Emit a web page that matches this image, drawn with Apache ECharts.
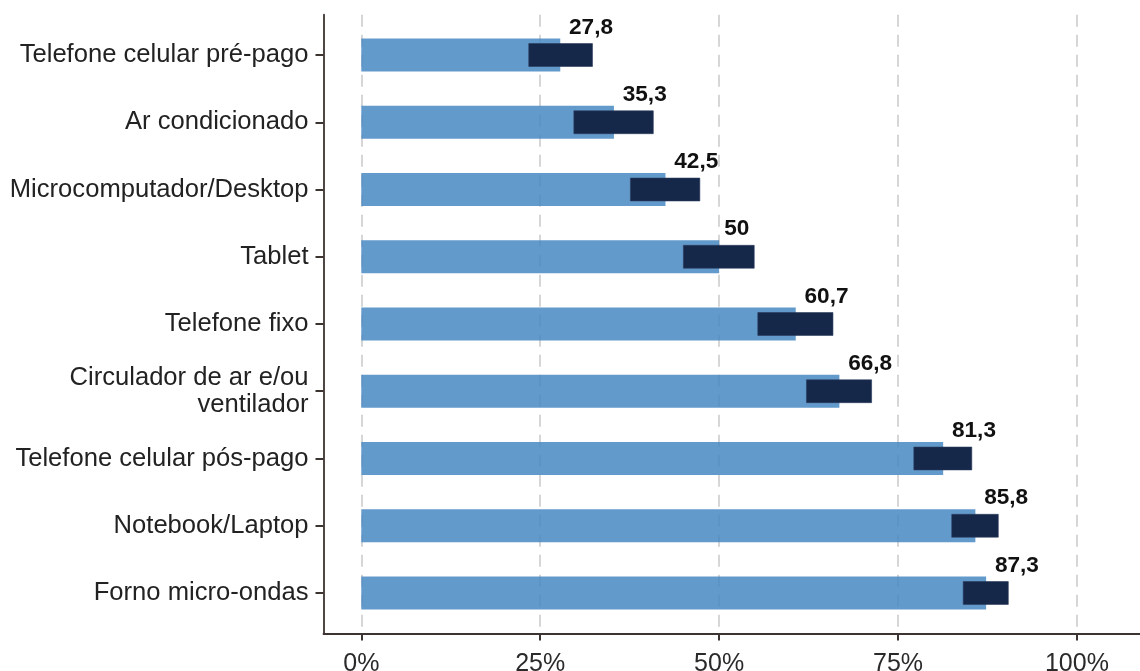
<!DOCTYPE html>
<html>
<head>
<meta charset="utf-8">
<script src="https://cdn.jsdelivr.net/npm/echarts@6/dist/echarts.min.js"></script>
<style>html,body{margin:0;padding:0;background:#fff}#c{width:1140px;height:671px}</style>
</head>
<body>
<div id="c"></div>
<script>
const categories = ["Telefone celular pré-pago","Ar condicionado","Microcomputador/Desktop","Tablet","Telefone fixo","Circulador de ar e/ou\nventilador","Telefone celular pós-pago","Notebook/Laptop","Forno micro-ondas"];
const values = [27.8, 35.3, 42.5, 50, 60.7, 66.8, 81.3, 85.8, 87.3];
const lower = [23.4, 29.7, 37.6, 45.0, 55.4, 62.2, 77.2, 82.5, 84.1];
const upper = [32.3, 40.8, 47.3, 54.9, 65.9, 71.3, 85.3, 89.0, 90.4];
const xTicks = [0, 25, 50, 75, 100];

const FONT = '"Liberation Sans", Arial, Helvetica, sans-serif';
const LABEL_FONT = 'bold 22.6px "Liberation Sans", Arial, sans-serif';
const mctx = document.createElement('canvas').getContext('2d');
mctx.font = LABEL_FONT;
const fmt = v => String(v).replace('.', ',');

const X_MIN = -5.28, X_MAX = 108.8;
const AXIS_COLOR = '#3b3430';

const chart = echarts.init(document.getElementById('c'), null, {renderer: 'canvas'});
const rangeData = values.map((v, i) => [i, lower[i], upper[i], v]);

chart.setOption({
  animation: false,
  backgroundColor: '#ffffff',
  grid: [
    {left: 323.5, right: 0, top: 14.7, bottom: 37.5, outerBoundsMode: 'none'},      // axis lines frame
    {left: 361.3, width: 715.6, top: 14.7, bottom: 37.5, outerBoundsMode: 'none'},  // gridlines & x ticks
    {left: 323.5, right: 0, top: 21.4, bottom: 44.4, outerBoundsMode: 'none'}       // data
  ],
  xAxis: [
    {gridIndex: 0, type: 'value', min: X_MIN, max: X_MAX,
     axisLine: {show: true, onZero: false, lineStyle: {color: AXIS_COLOR, width: 1.8}},
     axisTick: {show: false}, axisLabel: {show: false}, splitLine: {show: false}},
    {gridIndex: 1, type: 'value', min: xTicks[0], max: xTicks[xTicks.length - 1], interval: 25,
     axisLine: {show: false, onZero: false},
     axisTick: {show: true, length: 7, lineStyle: {color: AXIS_COLOR, width: 2}},
     axisLabel: {show: true, margin: 18, formatter: v => v + '%', color: '#2a2a2a', fontSize: 25, fontFamily: FONT},
     splitLine: {show: true, lineStyle: {color: '#d6d6d6', width: 2, type: [12, 8]}}},
    {gridIndex: 2, type: 'value', min: X_MIN, max: X_MAX, show: false}
  ],
  yAxis: [
    {gridIndex: 0, type: 'value', min: 0, max: 1,
     axisLine: {show: true, onZero: false, lineStyle: {color: AXIS_COLOR, width: 1.8}},
     axisTick: {show: false}, axisLabel: {show: false}, splitLine: {show: false}},
    {gridIndex: 1, type: 'value', show: false},
    {gridIndex: 2, type: 'category', inverse: true, data: categories,
     axisLine: {show: false, onZero: false},
     axisTick: {show: true, alignWithLabel: true, length: 8, lineStyle: {color: AXIS_COLOR, width: 2}},
     axisLabel: {show: true, margin: 15, color: '#222', fontSize: 25.6, fontFamily: FONT, lineHeight: 27, align: 'right'}}
  ],
  series: [
    {
      type: 'bar', xAxisIndex: 2, yAxisIndex: 2, data: values, barWidth: 33,
      itemStyle: {color: 'rgba(73,137,196,0.86)'}, z: 2
    },
    {
      type: 'custom', xAxisIndex: 2, yAxisIndex: 2, data: rangeData,
      encode: {y: 0, x: [1, 2]}, z: 3,
      renderItem: function (params, api) {
        const cat = api.value(0);
        const lo = api.coord([api.value(1), cat]);
        const hi = api.coord([api.value(2), cat]);
        const vv = api.value(3);
        const vp = api.coord([vv, cat]);
        const band = api.size([0, 1])[1];
        const h = band * 0.34;
        const txt = fmt(vv);
        const w = mctx.measureText(txt).width;
        return {
          type: 'group',
          children: [
            {type: 'rect', shape: {x: lo[0], y: lo[1] - h / 2, width: hi[0] - lo[0], height: h},
             style: {fill: '#15284a', stroke: '#2a3a5a', lineWidth: 0.6}},
            {type: 'text', x: vp[0] + 0.2 * w, y: lo[1] - band * 0.41,
             style: {text: txt, font: LABEL_FONT, fill: '#111', align: 'left', verticalAlign: 'middle'}}
          ]
        };
      }
    }
  ]
});
</script>
</body>
</html>
